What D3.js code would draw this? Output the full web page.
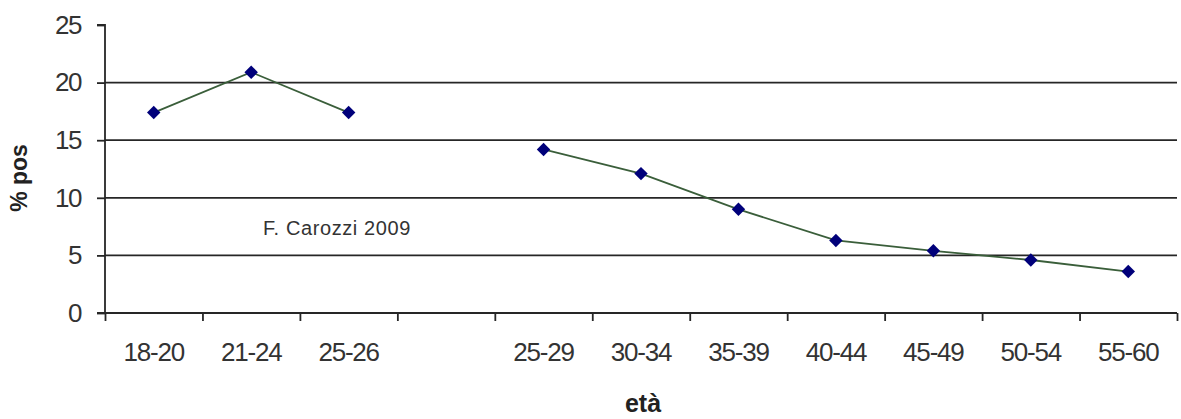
<!DOCTYPE html>
<meta charset="utf-8">
<svg id="mysvg"></svg>
<script src="https://d3js.org/d3.v7.min.js"></script>
<script>
d3.select("body").style("margin", "0px").style("background", "white");

// age groups (blank slot separates the two series)
var ages = ["18-20", "21-24", "25-26", "", "25-29", "30-34", "35-39", "40-44", "45-49", "50-54", "55-60"];
var pos = [17.4, 20.9, 17.4, null, 14.2, 12.1, 9.0, 6.3, 5.4, 4.6, 3.6];
var yTicks = [0, 5, 10, 15, 20, 25];

var width = 1181, height = 419;
var plotL = 105, plotR = 1177, plotT = 25, plotB = 313;

var svg = d3.select("#mysvg")
  .attr("width", width)
  .attr("height", height)
  .style("font-family", "Arial, 'Liberation Sans', sans-serif");

var yScale = d3.scaleLinear().domain([0, 25]).range([plotB, plotT]);
var xEdge = d3.scaleLinear().domain([0, ages.length]).range([plotL, plotR]);
var xBand = d3.scaleBand().domain(d3.range(ages.length)).range([plotL, plotR]).padding(0);
var xMid = function(i) { return xBand(i) + xBand.bandwidth() / 2; };

var ink = "#262626";

// horizontal gridlines
svg.append("g").selectAll("line")
  .data(yTicks.filter(function(d){ return d > 0 && d < 25; }))
  .enter().append("line")
  .attr("x1", plotL).attr("x2", plotR)
  .attr("y1", function(d){ return yScale(d); })
  .attr("y2", function(d){ return yScale(d); })
  .attr("stroke", ink).attr("stroke-width", 1.8);

// y axis
var yAxis = svg.append("g")
  .attr("transform", "translate(" + plotL + ",0)")
  .call(d3.axisLeft(yScale).tickValues(yTicks).tickSize(8).tickPadding(16));
yAxis.select(".domain").attr("stroke", ink).attr("stroke-width", 1.8)
  .attr("d", "M-8," + plotT + "H0V" + plotB);
yAxis.selectAll(".tick line").attr("stroke", ink).attr("stroke-width", 1.8);
yAxis.selectAll("text").attr("fill", "#333").style("font-size", "26px")
  .style("letter-spacing", "-1.5px");

// x axis: ticks on category boundaries
var xAxis = svg.append("g")
  .attr("transform", "translate(0," + plotB + ")")
  .call(d3.axisBottom(xEdge).tickValues(d3.range(ages.length + 1)).tickFormat("").tickSize(8));
xAxis.select(".domain").attr("stroke", ink).attr("stroke-width", 1.8)
  .attr("d", "M" + (plotL - 8) + ",0H" + plotR);
xAxis.selectAll(".tick line").attr("stroke", ink).attr("stroke-width", 1.8);

// x labels at category centres
var xLab = svg.append("g")
  .attr("transform", "translate(0," + plotB + ")")
  .call(d3.axisBottom(xBand).tickFormat(function(i){ return ages[i]; }).tickSize(0).tickPadding(30));
xLab.select(".domain").remove();
xLab.selectAll("text").attr("fill", "#333").style("font-size", "26px")
  .style("letter-spacing", "-1.2px");

// line
var line = d3.line()
  .defined(function(d){ return d != null; })
  .x(function(d, i){ return xMid(i); })
  .y(function(d){ return yScale(d); });

svg.append("path")
  .datum(pos)
  .attr("fill", "none")
  .attr("stroke", "#3a5e3a")
  .attr("stroke-width", 1.8)
  .attr("d", line);

// diamond markers
svg.append("g").selectAll("path")
  .data(pos.map(function(d, i){ return {v: d, i: i}; }).filter(function(d){ return d.v != null; }))
  .enter().append("path")
  .attr("d", d3.symbol().type(d3.symbolDiamond2).size(115))
  .attr("transform", function(d){ return "translate(" + xMid(d.i) + "," + yScale(d.v) + ")"; })
  .attr("fill", "#00007a");

// annotation
svg.append("text")
  .attr("x", 263).attr("y", 235)
  .attr("fill", "#333")
  .style("font-size", "20px")
  .style("letter-spacing", "0.6px")
  .text("F. Carozzi 2009");

// axis titles
svg.append("text")
  .attr("transform", "translate(27,178) rotate(-90)")
  .attr("text-anchor", "middle")
  .attr("fill", "#222")
  .style("font-size", "23px").style("font-weight", "bold")
  .text("% pos");

svg.append("text")
  .attr("x", 643).attr("y", 412)
  .attr("text-anchor", "middle")
  .attr("fill", "#222")
  .style("font-size", "25px").style("font-weight", "bold")
  .text("età");
</script>
